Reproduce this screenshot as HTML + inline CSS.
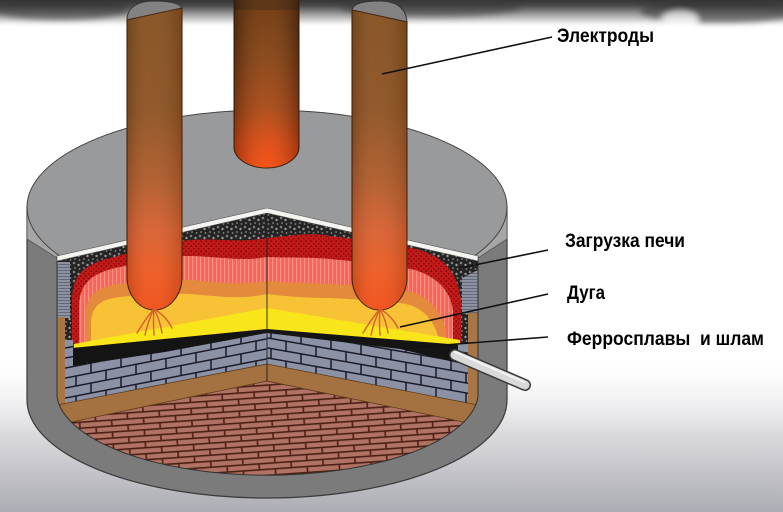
<!DOCTYPE html>
<html><head><meta charset="utf-8"><style>
html,body{margin:0;padding:0;background:#fff;overflow:hidden}
svg{display:block}
text{font-family:"Liberation Sans Narrow","Liberation Sans","DejaVu Sans",sans-serif;font-weight:bold;fill:#000}
</style></head><body>
<svg width="783" height="512" viewBox="0 0 783 512" xmlns="http://www.w3.org/2000/svg">
<defs>
 <linearGradient id="bgb" x1="0" y1="0" x2="0" y2="1">
  <stop offset="0" stop-color="#ffffff" stop-opacity="0"/>
  <stop offset="0.5" stop-color="#dcdce0"/>
  <stop offset="1" stop-color="#acacb4"/>
 </linearGradient>
 <linearGradient id="topb" x1="0" y1="0" x2="0" y2="1">
  <stop offset="0" stop-color="#262626"/>
  <stop offset="0.3" stop-color="#4a4a4a"/>
  <stop offset="0.58" stop-color="#a0a0a0"/>
  <stop offset="0.82" stop-color="#e6e6e6"/>
  <stop offset="1" stop-color="#ffffff" stop-opacity="0"/>
 </linearGradient>
 <filter id="bl"><feGaussianBlur stdDeviation="3"/></filter>
 <linearGradient id="el" gradientUnits="userSpaceOnUse" x1="0" y1="0" x2="0" y2="310">
  <stop offset="0" stop-color="#84501e"/>
  <stop offset="0.35" stop-color="#8e5222"/>
  <stop offset="0.58" stop-color="#b05c2a"/>
  <stop offset="0.74" stop-color="#d86030"/>
  <stop offset="0.87" stop-color="#ee5a22"/>
  <stop offset="1" stop-color="#f44e16"/>
 </linearGradient>
 <linearGradient id="em" gradientUnits="userSpaceOnUse" x1="0" y1="0" x2="0" y2="168">
  <stop offset="0" stop-color="#66350f"/>
  <stop offset="0.35" stop-color="#824217"/>
  <stop offset="0.65" stop-color="#a84818"/>
  <stop offset="0.86" stop-color="#e04a14"/>
  <stop offset="1" stop-color="#f54a10"/>
 </linearGradient>
 <linearGradient id="hs" x1="0" y1="0" x2="1" y2="0">
  <stop offset="0" stop-color="#000" stop-opacity="0.16"/>
  <stop offset="0.45" stop-color="#fff" stop-opacity="0.04"/>
  <stop offset="1" stop-color="#000" stop-opacity="0.14"/>
 </linearGradient>
 <linearGradient id="hs2" x1="0" y1="0" x2="1" y2="0">
  <stop offset="0" stop-color="#000" stop-opacity="0.3"/>
  <stop offset="0.5" stop-color="#ffb070" stop-opacity="0.08"/>
  <stop offset="1" stop-color="#000" stop-opacity="0.3"/>
 </linearGradient>
 <pattern id="chg" width="9" height="9" patternUnits="userSpaceOnUse">
  <rect width="9" height="9" fill="#242424"/>
  <circle cx="2" cy="2" r="1.3" fill="#7d7d7d"/>
  <circle cx="6.5" cy="4" r="1.2" fill="#9a9a9a"/>
  <circle cx="3" cy="7" r="1.1" fill="#666"/>
  <circle cx="7.5" cy="8" r="0.9" fill="#888"/>
 </pattern>
 <pattern id="red" width="5" height="5" patternUnits="userSpaceOnUse">
  <rect width="5" height="5" fill="#c41a1a"/>
  <circle cx="1.2" cy="1.2" r="0.9" fill="#7a0808"/>
  <circle cx="3.7" cy="3.7" r="0.9" fill="#8a0a0a"/>
 </pattern>
 <pattern id="sal" width="4" height="10" patternUnits="userSpaceOnUse">
  <rect width="4" height="10" fill="#f4655a"/>
  <rect width="1.2" height="10" fill="#ff8e80"/>
 </pattern>
 <pattern id="brL" width="30" height="20" patternUnits="userSpaceOnUse" patternTransform="skewY(-11)">
  <rect width="30" height="20" fill="#8c92a6"/>
  <path d="M0,0.7H30M0,10.7H30M1,0V10M16,10V20" stroke="#1b1b28" stroke-width="1.5"/>
 </pattern>
 <pattern id="brR" width="30" height="20" patternUnits="userSpaceOnUse" patternTransform="skewY(10)">
  <rect width="30" height="20" fill="#8c92a6"/>
  <path d="M0,0.7H30M0,10.7H30M1,0V10M16,10V20" stroke="#1b1b28" stroke-width="1.5"/>
 </pattern>
 <pattern id="fl" width="32" height="12" patternUnits="userSpaceOnUse" patternTransform="rotate(-4)">
  <rect width="32" height="12" fill="#b07262"/>
  <path d="M0,0.8H32M0,6.8H32M2,0V6M18,6V12" stroke="#4d2016" stroke-width="1.6"/>
 </pattern>
 <pattern id="blu" width="6" height="3" patternUnits="userSpaceOnUse">
  <rect width="6" height="3" fill="#8c92a2"/>
  <rect width="6" height="0.8" fill="#5a6070"/>
 </pattern>
 <clipPath id="inner"><path d="M57,257 L267,209 L478,257 L478,397 A211,84 0 0 1 57,397 Z"/></clipPath>
</defs>

<!-- background -->
<rect width="783" height="512" fill="#fff"/>
<rect x="0" y="350" width="783" height="162" fill="url(#bgb)"/>
<rect x="0" y="-4" width="783" height="32" fill="url(#topb)"/>
<g filter="url(#bl)" opacity="0.55">
 <ellipse cx="60" cy="9" rx="70" ry="11" fill="#333"/>
 <ellipse cx="430" cy="7" rx="90" ry="10" fill="#3a3a3a"/>
 <ellipse cx="720" cy="11" rx="80" ry="12" fill="#333"/>
 <ellipse cx="680" cy="19" rx="18" ry="8" fill="#fff"/>
</g>

<!-- shell -->
<path d="M27,207 L27,400 A240,98 0 0 0 507,400 L507,207 Z" fill="#7b7b7b" stroke="#3a3a3a" stroke-width="1.2"/>
<!-- lid rim + lid -->
<path d="M27,207 L27,239 L57,258 L478,258 L507,239 L507,207 Z" fill="#a6a6a6" stroke="#555" stroke-width="0.8"/>
<ellipse cx="267" cy="207" rx="240" ry="97" fill="#999a9b" stroke="#444" stroke-width="1"/>

<!-- interior -->
<g clip-path="url(#inner)">
 <rect x="50" y="200" width="440" height="300" fill="url(#fl)"/>
 <path d="M57,257 L267,209 L267,381 L57,425 Z" fill="url(#chg)"/>
 <path d="M267,209 L478,257 L478,425 L267,381 Z" fill="url(#chg)"/>
 <rect x="57" y="262" width="13" height="56" fill="url(#blu)"/>
 <path d="M462,278 L478,270 L478,314 L462,314 Z" fill="url(#blu)"/>
 <!-- left fire -->
 <path d="M72,355 L72,300 C72,275 85,264 110,258 C140,250 165,242 190,240 C215,238 240,243 267,238 L267,332 Z" fill="url(#red)"/>
 <path d="M79,355 L79,305 C80,283 92,274 115,268 C145,262 165,256 190,256 C215,256 240,262 267,257 L267,332 Z" fill="url(#sal)"/>
 <path d="M85,355 L85,315 C86,295 97,288 118,284 C150,280 170,279 190,280 C215,282 240,286 267,281 L267,332 Z" fill="#e38a3c"/>
 <path d="M91,355 L91,322 C92,305 102,299 120,297 C150,294 170,293 190,294 C215,296 240,300 267,294 L267,332 Z" fill="#f7c236"/>
 <path d="M74,344 L267,308 L267,331 L74,353 Z" fill="#f9e61a"/>
 <!-- right fire -->
 <path d="M267,238 C290,236 310,232 330,236 C360,240 400,244 420,250 C445,258 457,272 461,300 L461,352 L267,332 Z" fill="url(#red)"/>
 <path d="M267,257 C290,258 310,257 330,259 C360,262 395,265 415,270 C437,277 450,290 453,310 L453,350 L267,332 Z" fill="url(#sal)"/>
 <path d="M267,281 C290,283 310,283 330,284 C365,286 395,288 412,292 C430,298 442,312 446,330 L446,350 L267,332 Z" fill="#e38a3c"/>
 <path d="M267,294 C290,297 310,298 330,298 C365,300 395,301 410,305 C425,310 435,322 439,340 L440,350 L267,332 Z" fill="#f7c236"/>
 <path d="M267,308 L460,340 L460,351 L267,331 Z" fill="#f9e61a"/>
 <!-- black wedges -->
 <path d="M72,348 L267,329 L267,333 L165,352 L72,366 Z" fill="#141414"/>
 <path d="M267,329 L461,345 L461,364 L400,349 L267,333 Z" fill="#141414"/>
 <!-- bricks -->
 <path d="M65,340 L73,340 L73,366 L165,352 L267,333 L267,366 L65,408 Z" fill="url(#brL)"/>
 <path d="M267,333 L400,349 L458,363 L458,343 L468,343 L468,408 L267,366 Z" fill="url(#brR)"/>
 <!-- brown linings -->
 <rect x="57" y="317" width="8" height="92" fill="#a87644"/>
 <rect x="468" y="313" width="10" height="96" fill="#a87644"/>
 <path d="M57,405 L267,364 L267,381 L57,425 Z" fill="#a47240" stroke="#5a3a1a" stroke-width="0.8"/>
 <path d="M267,364 L478,405 L478,425 L267,381 Z" fill="#a47240" stroke="#5a3a1a" stroke-width="0.8"/>
 <path d="M267,211 L267,381" stroke="#222" stroke-width="0.9"/>
</g>
<path d="M57,257 L267,209 L478,257 L478,397 A211,84 0 0 1 57,397 Z" fill="none" stroke="#333" stroke-width="1"/>
<path d="M57,256 L267,208 L478,256 L478,261 L267,213 L57,261 Z" fill="#f4f4f0" stroke="#555" stroke-width="0.6"/>

<!-- middle electrode -->
<path d="M234,-2 L234,147 A32.5,21 0 0 0 299,147 L299,-2 Z" fill="url(#em)" stroke="#3a200c" stroke-width="1"/>
<path d="M234,-2 L234,147 A32.5,21 0 0 0 299,147 L299,-2 Z" fill="url(#hs2)"/>
<rect x="234" y="0" width="65" height="10" fill="#1a1a1a" opacity="0.25"/>

<!-- left electrode -->
<path d="M127,20 C127,7 138,1 154,1 C170,1 181,3 182,9 Z" fill="#828282" stroke="#333" stroke-width="1"/>
<path d="M127,20 L182,8 L182,277 A27.5,33 0 0 1 127,277 Z" fill="url(#el)" stroke="#4a2810" stroke-width="1.1"/>
<path d="M127,20 L182,8 L182,277 A27.5,33 0 0 1 127,277 Z" fill="url(#hs)"/>
<!-- right electrode -->
<path d="M352,10 C353,3 365,1 380,1 C396,1 406,8 407,22 Z" fill="#828282" stroke="#333" stroke-width="1"/>
<path d="M352,10 L407,22 L407,277 A27.5,33 0 0 1 352,277 Z" fill="url(#el)" stroke="#4a2810" stroke-width="1.1"/>
<path d="M352,10 L407,22 L407,277 A27.5,33 0 0 1 352,277 Z" fill="url(#hs)"/>

<!-- arcs -->
<g fill="none" stroke="#d8602a" stroke-width="1.4" stroke-linecap="round">
 <path d="M154,309 Q146,318 137,333"/>
 <path d="M154,309 Q148,321 145,335"/>
 <path d="M154,309 Q153,321 154,335"/>
 <path d="M154,309 Q160,320 162,333"/>
 <path d="M154,309 Q166,316 172,328"/>
 <path d="M380,309 Q372,318 363,333"/>
 <path d="M380,309 Q374,321 371,335"/>
 <path d="M380,309 Q379,321 380,335"/>
 <path d="M380,309 Q386,320 388,333"/>
 <path d="M380,309 Q392,316 398,328"/>
</g>

<!-- tap pipe -->
<path d="M455,355 L525,385" stroke="#3a3a3a" stroke-width="12" stroke-linecap="round"/>
<path d="M455,355 L525,385" stroke="#d9d9d9" stroke-width="9" stroke-linecap="round"/>
<path d="M455,352 L524,382" stroke="#f4f4f4" stroke-width="2" stroke-linecap="round"/>

<!-- leader lines -->
<g stroke="#111" stroke-width="1.6">
 <path d="M382,74 L552,37"/>
 <path d="M460,268 L548,250"/>
 <path d="M400,327 L548,294"/>
 <path d="M418,347 L548,337"/>
</g>

<!-- labels -->
<text x="557" y="42" font-size="19" textLength="97" lengthAdjust="spacingAndGlyphs">Электроды</text>
<text x="565" y="247" font-size="19" textLength="120" lengthAdjust="spacingAndGlyphs">Загрузка печи</text>
<text x="567" y="299" font-size="19" textLength="38" lengthAdjust="spacingAndGlyphs">Дуга</text>
<text x="567" y="345" font-size="19" textLength="197" lengthAdjust="spacingAndGlyphs" style="white-space:pre">Ферросплавы  и шлам</text>
</svg>
</body></html>
